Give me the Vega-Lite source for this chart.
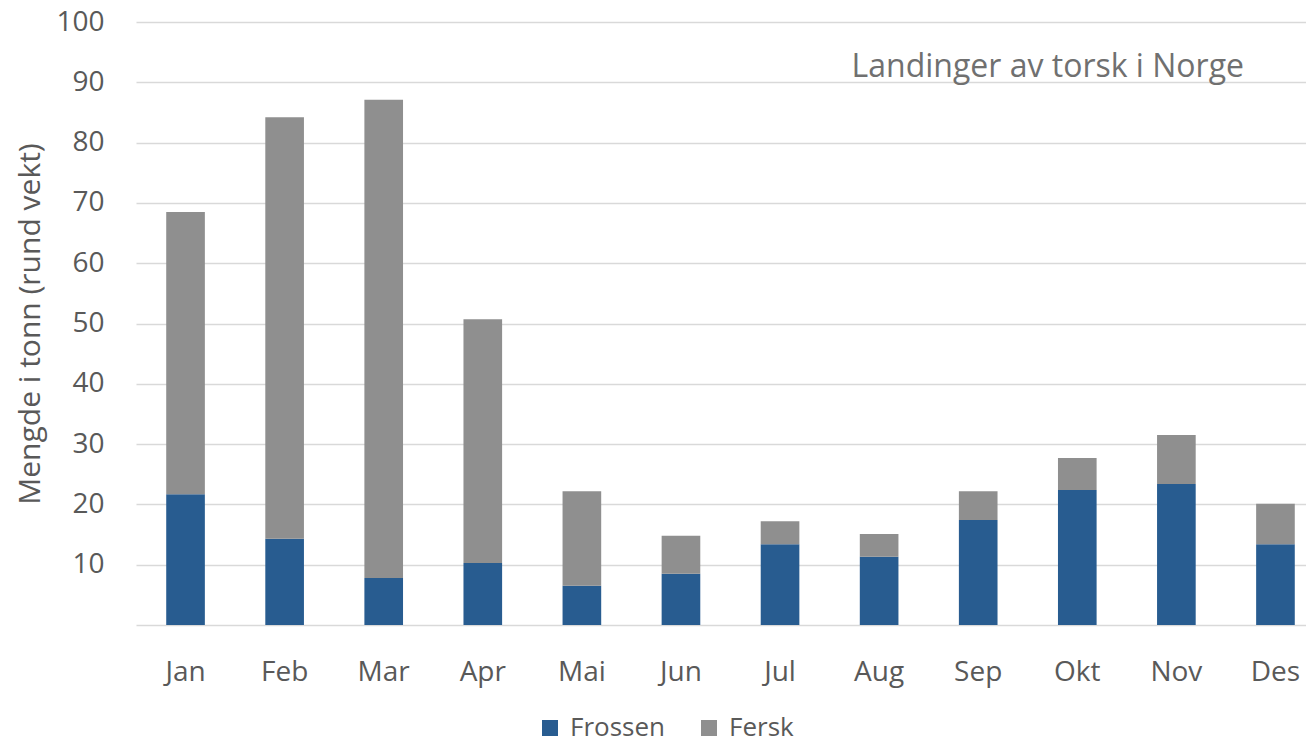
{
  "$schema": "https://vega.github.io/schema/vega-lite/v6.json",
  "width": 1189,
  "height": 603,
  "autosize": {"type": "none"},
  "padding": {"left": 136, "top": 22, "right": 0, "bottom": 119},
  "background": "white",
  "title": {
    "text": "Landinger av torsk i Norge",
    "anchor": "end",
    "frame": "group",
    "orient": "top",
    "dx": -81,
    "dy": 80,
    "font": "Open Sans",
    "fontSize": 32,
    "fontWeight": "normal",
    "color": "#707070"
  },
  "data": {
    "values": [
      {"month": "Jan", "type": "Frossen", "value": 21.7},
      {"month": "Jan", "type": "Fersk", "value": 46.8},
      {"month": "Feb", "type": "Frossen", "value": 14.3},
      {"month": "Feb", "type": "Fersk", "value": 69.9},
      {"month": "Mar", "type": "Frossen", "value": 7.8},
      {"month": "Mar", "type": "Fersk", "value": 79.3},
      {"month": "Apr", "type": "Frossen", "value": 10.3},
      {"month": "Apr", "type": "Fersk", "value": 40.4},
      {"month": "Mai", "type": "Frossen", "value": 6.5},
      {"month": "Mai", "type": "Fersk", "value": 15.7},
      {"month": "Jun", "type": "Frossen", "value": 8.5},
      {"month": "Jun", "type": "Fersk", "value": 6.3},
      {"month": "Jul", "type": "Frossen", "value": 13.4},
      {"month": "Jul", "type": "Fersk", "value": 3.8},
      {"month": "Aug", "type": "Frossen", "value": 11.3},
      {"month": "Aug", "type": "Fersk", "value": 3.8},
      {"month": "Sep", "type": "Frossen", "value": 17.4},
      {"month": "Sep", "type": "Fersk", "value": 4.8},
      {"month": "Okt", "type": "Frossen", "value": 22.4},
      {"month": "Okt", "type": "Fersk", "value": 5.3},
      {"month": "Nov", "type": "Frossen", "value": 23.4},
      {"month": "Nov", "type": "Fersk", "value": 8.1},
      {"month": "Des", "type": "Frossen", "value": 13.4},
      {"month": "Des", "type": "Fersk", "value": 6.7}
    ]
  },
  "mark": {"type": "bar"},
  "encoding": {
    "x": {
      "field": "month",
      "type": "nominal",
      "sort": ["Jan","Feb","Mar","Apr","Mai","Jun","Jul","Aug","Sep","Okt","Nov","Des"],
      "scale": {"paddingInner": 0.61, "paddingOuter": 0.305},
      "axis": {
        "title": null,
        "labelAngle": 0,
        "ticks": false,
        "domain": true,
        "domainColor": "#D9D9D9",
        "domainWidth": 1.5,
        "labelPadding": 33,
        "labelFont": "Open Sans",
        "labelFontSize": 28,
        "labelColor": "#595959",
        "grid": false
      }
    },
    "y": {
      "field": "value",
      "type": "quantitative",
      "stack": "zero",
      "scale": {"domain": [0, 100], "nice": false},
      "axis": {
        "title": "Mengde i tonn (rund vekt)",
        "titleFont": "Open Sans",
        "titleFontSize": 30,
        "titleFontWeight": "normal",
        "titleColor": "#595959",
        "titlePadding": 10,
        "values": [10,20,30,40,50,60,70,80,90,100],
        "ticks": false,
        "domain": false,
        "grid": true,
        "gridColor": "#D9D9D9",
        "gridWidth": 1.5,
        "labelPadding": 32,
        "labelFont": "Open Sans",
        "labelFontSize": 28,
        "labelColor": "#595959"
      }
    },
    "color": {
      "field": "type",
      "type": "nominal",
      "scale": {"domain": ["Frossen", "Fersk"], "range": ["#285C90", "#8F8F8F"]},
      "legend": {
        "title": null,
        "orient": "none",
        "direction": "horizontal",
        "legendX": 401,
        "legendY": 693,
        "symbolType": "square",
        "symbolSize": 256,
        "symbolStrokeWidth": 0,
        "symbolOpacity": 1,
        "labelFont": "Open Sans",
        "labelFontSize": 26,
        "labelColor": "#595959",
        "columnPadding": 30,
        "labelOffset": 7
      }
    },
    "order": {"field": "type", "sort": "descending"}
  },
  "config": {"view": {"stroke": null}}
}
